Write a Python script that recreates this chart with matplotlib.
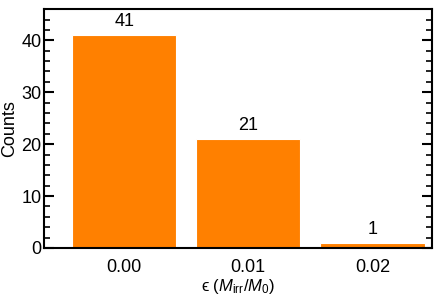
import matplotlib
matplotlib.use("Agg")
import matplotlib.pyplot as plt
from matplotlib.ticker import MultipleLocator

categories = ["0.00", "0.01", "0.02"]
counts = [41, 21, 1]

plt.rcParams['font.family'] = ['Liberation Sans', 'DejaVu Sans']
plt.rcParams['mathtext.fontset'] = 'custom'
plt.rcParams['mathtext.rm'] = 'Liberation Sans'
plt.rcParams['mathtext.it'] = 'Liberation Sans:italic'

fs = 13
fig = plt.figure(figsize=(4.36, 3.05), dpi=100)
ax = fig.add_axes([0.101, 0.187, 0.890, 0.783])
x = list(range(len(categories)))
bars = ax.bar(x, counts, width=0.84, color='#ff8000', edgecolor='white', linewidth=0.8)
for xi, c in zip(x, counts):
    ax.text(xi, c + 1.0, str(c), ha='center', va='bottom', fontsize=fs)
ax.set_xticks(x)
ax.set_xticklabels(categories)
ax.set_xlim(-0.645, 2.48)
ax.set_ylim(0, 46)
ax.yaxis.set_major_locator(MultipleLocator(10))
ax.yaxis.set_minor_locator(MultipleLocator(2))
ax.tick_params(axis='y', which='both', direction='in', left=True, right=True, labelsize=fs, pad=2)
ax.tick_params(axis='y', which='major', length=7, width=1.5)
ax.tick_params(axis='y', which='minor', length=4, width=1.2)
ax.tick_params(axis='x', which='both', length=0, labelsize=fs, pad=8)
for s in ax.spines.values():
    s.set_linewidth(1.5)
ax.set_ylabel('Counts', fontsize=fs, labelpad=2)
ax.set_xlabel('\u03f5 ($M_{\\rm irr}/M_0$)', fontsize=12, labelpad=1)
fig.savefig('out.png', dpi=100)
